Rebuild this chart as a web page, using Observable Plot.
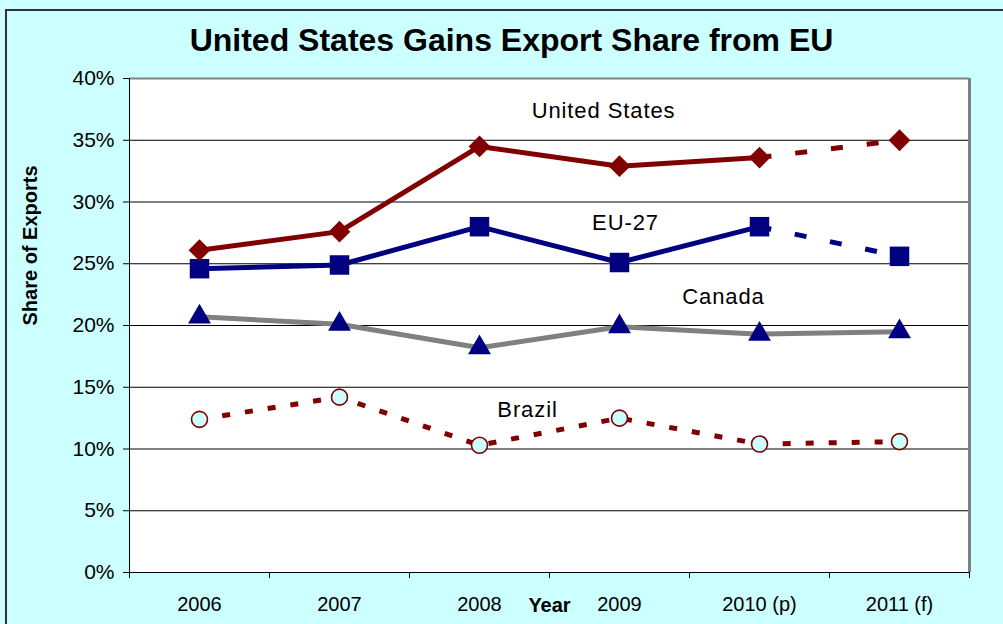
<!DOCTYPE html>
<html>
<head>
<meta charset="utf-8">
<script src="https://cdn.jsdelivr.net/npm/d3@7"></script>
<script src="https://cdn.jsdelivr.net/npm/@observablehq/plot@0.6"></script>
<style>
  html, body { margin: 0; padding: 0; background: #CCFFFF; }
  #wrap { position: relative; width: 1003px; height: 624px; background: #CCFFFF; overflow: hidden; font-family: "Liberation Sans", Arial, sans-serif; }
  #frame { position: absolute; left: 5px; top: 9px; width: 1100px; height: 700px; border: 2px solid #333; box-sizing: border-box; }
  #title { position: absolute; left: 10px; top: 22px; width: 1003px; text-align: center; font: bold 32px "Liberation Sans", Arial, sans-serif; color: #000; z-index: 2; }
  #chart { position: absolute; left: 0; top: 0; }
</style>
</head>
<body>
<div id="wrap">
  <div id="frame"></div>
  <div id="chart"></div>
  <div id="title">United States Gains Export Share from EU</div>
</div>
<script>
// ---- data ----
const years = ["2006", "2007", "2008", "2009", "2010 (p)", "2011 (f)"];
const seriesNames = ["United States", "EU-27", "Canada", "Brazil"];
const unitedStates = [26.1, 27.6, 34.5, 32.9, 33.6, 35.0];
const eu27 = [24.6, 24.9, 28.0, 25.1, 28.0, 25.6];
const canada = [20.7, 20.1, 18.2, 19.9, 19.3, 19.5];
const brazil = [12.4, 14.2, 10.3, 12.5, 10.4, 10.6];
const yTicks = [0, 5, 10, 15, 20, 25, 30, 35, 40];
// index of last point drawn with a solid line (rest dashed)
const solidUntil = {"United States": 4, "EU-27": 4, "Canada": 5, "Brazil": 0};
// in-chart series labels (category position, value)
const labelText = ["United States", "EU-27", "Canada", "Brazil"];
const labelPos = [3.386, 3.543, 4.243, 2.843];
const labelVal = [37.4, 28.3, 22.3, 13.2];

const values = [unitedStates, eu27, canada, brazil];
const rows = [];
seriesNames.forEach((s, k) => values[k].forEach((v, i) => rows.push({series: s, i, year: years[i], value: v})));
const solidRows = rows.filter(d => d.i <= solidUntil[d.series]);
const dashRows = rows.filter(d => d.i >= solidUntil[d.series]);
const pos = d => d.i + 0.5;
const colors = {"United States": "#800000", "EU-27": "#000080", "Canada": "#808080", "Brazil": "#800000"};
const dashes = {"United States": "12,24", "EU-27": "12,24", "Canada": null, "Brazil": "8,15"};
const labels = labelText.map((t, k) => ({text: t, x: labelPos[k], y: labelVal[k]}));
const bounds = d3.range(years.length + 1);
const mids = years.map((y, i) => i + 0.5);

const marks = [
  Plot.frame({fill: "white", stroke: null}),
  Plot.ruleY(yTicks.filter(t => t > 0 && t < 40), {stroke: "#000", strokeWidth: 1}),
  Plot.ruleY([40], {stroke: "#808080", strokeWidth: 2}),
  Plot.ruleX([years.length], {stroke: "#808080", strokeWidth: 3}),
  Plot.ruleX([0], {stroke: "#000", strokeWidth: 1}),
  Plot.ruleY([0], {stroke: "#000", strokeWidth: 1}),
  Plot.axisY({ticks: yTicks, tickFormat: d => d + "%", tickSize: 6, tickPadding: 9, fontSize: 21, label: null, stroke: "#000", strokeOpacity: 1}),
  Plot.axisX({ticks: bounds, tickFormat: () => "", tickSize: 6, label: null, strokeOpacity: 1}),
  Plot.axisX({ticks: mids, tickFormat: d => years[Math.floor(d)], tickSize: 0, tickPadding: 24, fontSize: 20, label: null}),
  Plot.text(["Share of Exports"], {frameAnchor: "left", dx: -99, rotate: -90, fontSize: 20, fontWeight: "bold", fill: "#000"}),
  Plot.text(["Year"], {x: 3, frameAnchor: "bottom", dy: 39, fontSize: 20, fontWeight: "bold", fill: "#000"})
];
for (const s of seriesNames) {
  const solid = solidRows.filter(d => d.series === s);
  if (solid.length > 1) marks.push(Plot.line(solid, {x: pos, y: "value", stroke: colors[s], strokeWidth: 5, strokeLinejoin: "miter", strokeLinecap: "butt"}));
  const dash = dashRows.filter(d => d.series === s);
  if (dashes[s] && dash.length > 1) marks.push(Plot.line(dash, {x: pos, y: "value", stroke: colors[s], strokeWidth: 5, strokeDasharray: dashes[s], strokeLinecap: "butt"}));
}
marks.push(
  Plot.dot(rows.filter(d => d.series === "Canada"), {x: pos, y: "value", symbol: "triangle", r: 8.5, fill: "#000080", stroke: "none"}),
  Plot.dot(rows.filter(d => d.series === "EU-27"), {x: pos, y: "value", symbol: "square", r: 11, fill: "#000080", stroke: "none"}),
  Plot.dot(rows.filter(d => d.series === "United States"), {x: pos, y: "value", symbol: "diamond2", r: 9.8, fill: "#800000", stroke: "none"}),
  Plot.dot(rows.filter(d => d.series === "Brazil"), {x: pos, y: "value", r: 8, fill: "#CCFFFF", stroke: "#800000", strokeWidth: 1.6}),
  Plot.text(labels, {x: "x", y: "y", text: "text", fontSize: 22, fill: "#000"})
);

const chart = Plot.plot({
  width: 1003,
  height: 624,
  marginLeft: 129,
  marginRight: 34,
  marginTop: 78,
  marginBottom: 52,
  style: {background: "transparent", fontFamily: "'Liberation Sans', Arial, sans-serif", color: "#000", overflow: "visible"},
  x: {type: "linear", domain: [0, years.length]},
  y: {domain: [0, 40]},
  marks
});
d3.select(chart).selectAll("text")
  .filter(function() { return labelText.includes(this.textContent); })
  .attr("letter-spacing", "0.9px");
document.getElementById("chart").appendChild(chart);
</script>
</body>
</html>
